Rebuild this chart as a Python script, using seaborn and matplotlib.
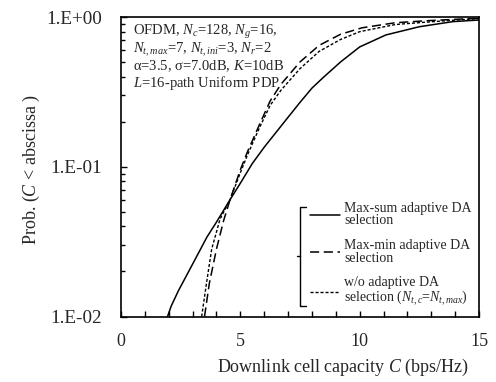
import matplotlib
matplotlib.use("Agg")
import matplotlib.pyplot as plt
from matplotlib.lines import Line2D
from matplotlib.ticker import FixedLocator, NullFormatter
import numpy as np
import pandas as pd
import seaborn as sns

# ---------------- data ----------------
maxsum_x = [1.95, 2.1, 2.4, 2.8, 3.2, 3.6, 4.0, 4.57, 5.0, 5.5, 6.0, 6.5, 7.0,
            7.5, 8.0, 8.5, 9.2, 10.0, 11.1, 12.5, 13.9, 15.0]
maxsum_y = [0.0100, 0.0117, 0.0148, 0.0195, 0.0257, 0.0339, 0.0427, 0.0603,
            0.0776, 0.105, 0.135, 0.170, 0.214, 0.269, 0.335, 0.398, 0.501,
            0.631, 0.759, 0.861, 0.931, 0.955]

maxmin_x = [3.5, 3.7, 4.0, 4.3, 4.57, 5.0, 5.3, 5.8, 6.25, 6.7, 7.5, 8.3, 9.2,
            10.1, 11.5, 12.9, 15.0]
maxmin_y = [0.0100, 0.0166, 0.0282, 0.0437, 0.0603, 0.0955, 0.126, 0.191,
            0.275, 0.355, 0.501, 0.646, 0.767, 0.847, 0.916, 0.946, 0.982]

wo_x = [3.38, 3.58, 3.8, 4.15, 4.57, 5.0, 5.3, 5.8, 6.25, 6.7, 7.5, 8.3, 9.2,
        10.0, 11.5, 12.9, 15.0]
wo_y = [0.0100, 0.0166, 0.0282, 0.0447, 0.0603, 0.0912, 0.120, 0.182, 0.257,
        0.324, 0.452, 0.589, 0.708, 0.798, 0.891, 0.927, 0.977]

series_labels = ["Max-sum adaptive DA\nselection",
                 "Max-min adaptive DA\nselection",
                 "w/o adaptive DA\nselection ($N_{t,c}$=$N_{t,max}$)"]

xticks = [0, 5, 10, 15]
xtick_labels = ["0", "5", "10", "15"]
yticks = [0.01, 0.1, 1.0]
ytick_labels = ["1.E-02", "1.E-01", "1.E+00"]

info_lines = ["OFDM, $N_c$=128, $N_g$=16,",
              "$N_{t,max}$=7, $N_{t,ini}$=3, $N_r$=2",
              "α=3.5, σ=7.0dB, $K$=10dB",
              "$L$=16-path Uniform PDP"]

# ---------------- style ----------------
sns.set_style("ticks")
plt.rcParams["font.family"] = ["Liberation Serif", "DejaVu Serif"]
plt.rcParams["mathtext.fontset"] = "custom"
plt.rcParams["mathtext.rm"] = "Liberation Serif"
plt.rcParams["mathtext.it"] = "Liberation Serif:italic"
plt.rcParams["mathtext.bf"] = "Liberation Serif:bold"

W, H = 496, 382
fig = plt.figure(figsize=(W / 100, H / 100), dpi=100)
fig.patch.set_facecolor("white")
ax = fig.add_axes([121 / W, 1 - 316.5 / H, 358 / W, 299.5 / H])

df1 = pd.DataFrame({"x": maxsum_x, "y": maxsum_y})
df2 = pd.DataFrame({"x": maxmin_x, "y": maxmin_y})
df3 = pd.DataFrame({"x": wo_x, "y": wo_y})

sns.lineplot(data=df1, x="x", y="y", ax=ax, color="black", lw=1.1,
             sort=False, estimator=None, label=series_labels[0])
sns.lineplot(data=df2, x="x", y="y", ax=ax, color="black", lw=1.1,
             linestyle=(0, (6, 3)), sort=False, estimator=None,
             label=series_labels[1])
sns.lineplot(data=df3, x="x", y="y", ax=ax, color="black", lw=1.0,
             linestyle=(0, (2.2, 1.4)), sort=False, estimator=None,
             label=series_labels[2])

ax.set_yscale("log")
ax.set_xlim(0, 15)
ax.set_ylim(0.01, 1.0)

ax.set_xticks(xticks)
ax.set_xticklabels(xtick_labels)
ax.xaxis.set_minor_locator(FixedLocator(np.arange(0, 16, 1)))
ax.set_yticks(yticks)
ax.set_yticklabels(ytick_labels)
ax.yaxis.set_minor_locator(FixedLocator(
    [m * 10.0 ** e for e in (-2, -1) for m in range(2, 10)]))
ax.yaxis.set_minor_formatter(NullFormatter())

ax.tick_params(axis="both", which="both", direction="in", color="black",
               top=False, right=False)
ax.tick_params(axis="x", which="major", length=4.5, width=1.0, pad=12,
               labelsize=13)
ax.tick_params(axis="x", which="minor", length=4.5, width=1.0)
ax.tick_params(axis="y", which="major", length=4.5, width=1.0, pad=13.5,
               labelsize=13.8)
ax.tick_params(axis="y", which="minor", length=3, width=1.0)

for s in ax.spines.values():
    s.set_linewidth(1.2)
    s.set_color("black")

ax.set_xlabel("Downlink cell capacity $C$ (bps/Hz)", fontsize=13)
ax.set_ylabel("Prob. ($C$ < abscissa )", fontsize=13)
ax.xaxis.set_label_coords(0.62, -0.135)
ax.yaxis.set_label_coords(-0.222, 0.49)

# info text
info_py = [32, 49.5, 66, 82.5]
for line, py in zip(info_lines, info_py):
    ax.text(0.034, (316.5 - py) / 299.5, line, transform=ax.transAxes,
            ha="left", va="center", fontsize=10.5)

# legend
leg = ax.legend(loc="upper left", bbox_to_anchor=((310 - 121) / 358, 0.383),
                frameon=False, fontsize=10, handlelength=2.15,
                handletextpad=0.3, labelspacing=0.85, borderpad=0,
                borderaxespad=0)
for t in leg.get_texts():
    t.set_linespacing(0.95)

# bracket decoration grouping the legend entries
def fx(px):
    return px / W

def fy(py):
    return 1 - py / H

fig.add_artist(Line2D([fx(305.5), fx(300), fx(300), fx(305.5)],
                      [fy(206.7), fy(206.7), fy(306), fy(306)],
                      color="black", lw=1.0))
fig.add_artist(Line2D([fx(296.5), fx(300)], [fy(256), fy(256)],
                      color="black", lw=1.0))

fig.savefig("out.png", dpi=100)
